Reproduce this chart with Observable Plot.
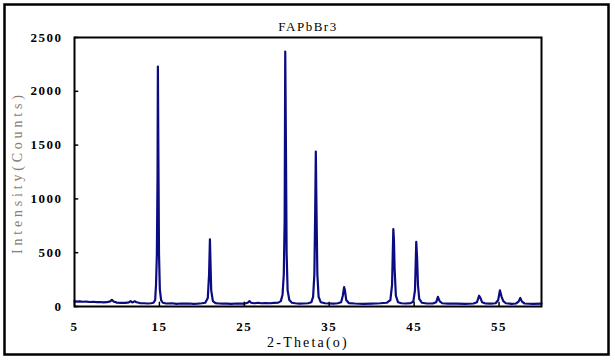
<!DOCTYPE html>
<html>
<head>
<meta charset="utf-8">
<script src="https://cdn.jsdelivr.net/npm/d3@7"></script>
<script src="https://cdn.jsdelivr.net/npm/@observablehq/plot@0.6"></script>
<style>
  html, body { margin: 0; padding: 0; background: white; }
</style>
</head>
<body>
<div id="chart"></div>
<script>
const chartTitle = "FAPbBr3";
const xLabel = "2-Theta(o)";
const yLabel = "Intensity(Counts)";
const xTicks = [5, 15, 25, 35, 45, 55];
const yTicks = [0, 500, 1000, 1500, 2000, 2500];

const twoTheta = [
  5.0, 5.3, 5.6, 6.0, 6.4, 6.8, 7.2, 7.6, 8.0, 8.4, 8.8, 9.2, 9.4, 9.6, 10.0, 10.5, 11.0, 11.4, 11.6, 11.8,
  12.1, 12.3, 12.7, 13.2, 13.6, 14.0, 14.3, 14.5, 14.6, 14.7, 14.78, 14.82, 14.88, 14.95, 15.05, 15.2, 15.4, 15.8,
  16.5, 17.0, 17.5, 18.0, 18.5, 19.0, 19.5, 20.0, 20.4, 20.7, 20.85, 20.95, 21.02, 21.1, 21.3, 21.6,
  22.0, 22.5, 23.0, 23.5, 24.0, 24.5, 25.0, 25.4, 25.6, 25.8, 26.2, 26.6, 27.0, 27.5, 28.0, 28.5, 29.0,
  29.3, 29.5, 29.65, 29.75, 29.82, 29.9, 29.98, 30.1, 30.3, 30.6, 31.0, 31.5, 32.0, 32.5, 32.9, 33.1,
  33.25, 33.35, 33.42, 33.5, 33.6, 33.75, 34.0, 34.5, 35.0, 35.5, 36.0, 36.4, 36.6, 36.75, 36.85, 37.0,
  37.3, 38.0, 39.0, 40.0, 41.0, 41.8, 42.2, 42.4, 42.55, 42.62, 42.7, 42.85, 43.1, 43.5, 44.0, 44.6,
  44.9, 45.1, 45.25, 45.35, 45.45, 45.6, 45.9, 46.5, 47.2, 47.6, 47.8, 48.0, 48.3, 49.0, 50.0, 51.0,
  52.0, 52.4, 52.65, 52.8, 53.0, 53.4, 54.0, 54.6, 54.9, 55.1, 55.3, 55.5, 55.8, 56.5, 57.0, 57.3,
  57.5, 57.7, 58.0, 59.0, 60.0
];
const counts = [
  50, 45, 48, 44, 46, 42, 44, 40, 42, 38, 40, 48, 62, 46, 36, 34, 33, 38, 50, 38,
  48, 40, 32, 30, 28, 30, 35, 60, 200, 480, 1200, 2230, 1400, 500, 160, 60, 35, 28,
  30, 25, 28, 26, 28, 25, 27, 30, 35, 80, 300, 625, 400, 150, 50, 32,
  28, 26, 27, 25, 28, 26, 27, 35, 50, 35, 30, 35, 30, 32, 30, 33, 36,
  50, 110, 300, 800, 2370, 1500, 500, 150, 60, 35, 30, 27, 28, 30, 40, 90,
  300, 900, 1440, 900, 300, 90, 40, 30, 28, 26, 30, 40, 100, 180, 150, 60,
  32, 28, 25, 27, 30, 35, 60, 200, 720, 620, 350, 100, 40, 30, 28, 32,
  45, 150, 600, 450, 200, 70, 35, 28, 28, 40, 90, 50, 30, 27, 26, 25,
  28, 40, 100, 80, 40, 28, 26, 30, 60, 150, 90, 50, 30, 25, 28, 45,
  80, 45, 28, 25, 26
];

const data = twoTheta.map((x, i) => ({x, y: counts[i]}));

const font = "'Liberation Serif', serif";

const plot = Plot.plot({
  width: 615,
  height: 360,
  marginLeft: 74,
  marginRight: 74,
  marginTop: 37,
  marginBottom: 54,
  x: {domain: [5, 60]},
  y: {domain: [0, 2500]},
  style: {fontFamily: font, fontSize: "13px", background: "white", color: "black"},
  marks: [
    Plot.line(data, {x: "x", y: "y", stroke: "#0b0b82", strokeWidth: 2.2}),
    Plot.ruleX(xTicks, {x: d => d, y1: 0, y2: 40, stroke: "black", strokeWidth: 1.5}),
    Plot.ruleY(yTicks, {y: d => d, x1: 5, x2: 5.5, stroke: "black", strokeWidth: 1.5}),
    Plot.frame({stroke: "black", strokeWidth: 2}),
    Plot.axisX(xTicks, {tickSize: 0, tickPadding: 15, label: null, fontWeight: "bold", tickFormat: d => String(d)}),
    Plot.axisY(yTicks, {tickSize: 0, tickPadding: 12, label: null, fontWeight: "bold", tickFormat: d => String(d)}),
    Plot.text([chartTitle], {frameAnchor: "top", dy: -16, fontSize: 13, fill: "black", className: "ttl"}),
    Plot.text([xLabel], {frameAnchor: "bottom", dy: 40, fontSize: 14, fill: "black", className: "xlab"}),
    Plot.text([yLabel], {frameAnchor: "left", dx: -57, dy: 82, rotate: -90, textAnchor: "start", fontSize: 14, fill: "#8a7c6e", className: "ylab"})
  ]
});

d3.select(plot).style("letter-spacing", "1.5px");
d3.select(plot).selectAll(".xlab text").style("letter-spacing", "2.2px");
d3.select(plot).selectAll(".ylab text").style("letter-spacing", "3.8px");
d3.select(plot).append("rect")
  .attr("x", 4.5).attr("y", 4.5).attr("width", 604).attr("height", 350)
  .attr("fill", "none").attr("stroke", "black").attr("stroke-width", 2.5);

document.getElementById("chart").appendChild(plot);
</script>
</body>
</html>
